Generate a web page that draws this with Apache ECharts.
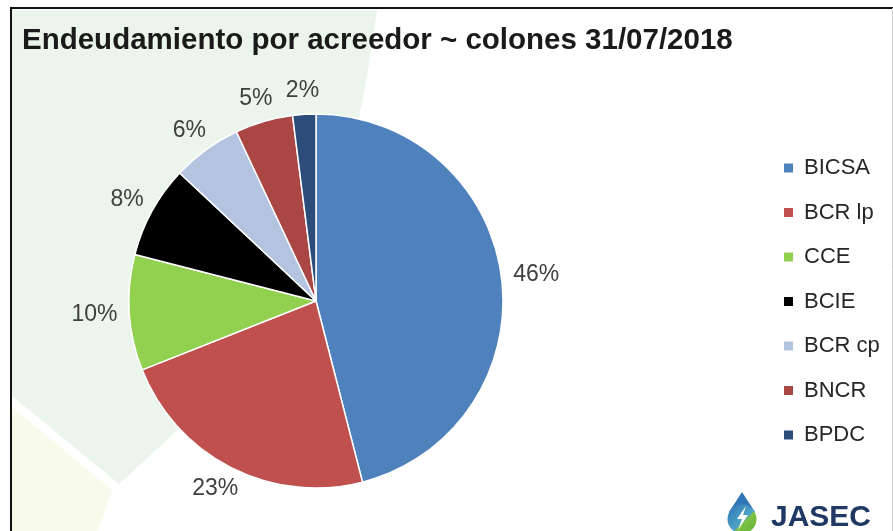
<!DOCTYPE html>
<html>
<head>
<meta charset="utf-8">
<script src="https://cdn.jsdelivr.net/npm/echarts@6/dist/echarts.min.js"></script>
<style>
html, body { margin: 0; padding: 0; background: #fff; }
#chart { width: 893px; height: 531px; }
</style>
</head>
<body>
<div id="chart"></div>
<script>
// datos
var titulo = 'Endeudamiento por acreedor ~ colones 31/07/2018';
var acreedores = ['BICSA', 'BCR lp', 'CCE', 'BCIE', 'BCR cp', 'BNCR', 'BPDC'];
var porcentajes = [46, 23, 10, 8, 6, 5, 2];
var colores = ['#4F81BD', '#C0504D', '#92D050', '#000000', '#B4C4E0', '#AA4643', '#2C4D7A'];

var FONT = "'Liberation Sans', Arial, sans-serif";
var CX = 316, CY = 301, R = 187, GAP = 12;
var total = porcentajes.reduce(function (a, b) { return a + b }, 0);

var chart = echarts.init(document.getElementById('chart'), null, { renderer: 'canvas' });

var pieData = acreedores.map(function (n, i) {
  return { name: n, value: porcentajes[i] };
});

var option = {
  animation: false,
  color: colores,
  title: {
    text: titulo,
    left: 22,
    top: 26,
    padding: 0,
    textStyle: { fontFamily: FONT, fontSize: 29.5, fontWeight: 'bold', color: '#1a1a1a' }
  },
  legend: {
    orient: 'vertical',
    left: 782,
    top: 157,
    padding: 0,
    icon: 'rect',
    itemWidth: 11,
    itemHeight: 11,
    itemGap: 22.5,
    selectedMode: false,
    textStyle: { fontFamily: FONT, fontSize: 22, color: '#262626', padding: [0, 0, 0, 5] },
    data: acreedores
  },
  graphic: [
    // fondo decorativo
    { type: 'polygon', z: 0, silent: true,
      shape: { points: [[12, 10], [377, 10], [368, 70], [355, 140], [300, 300], [180, 428], [119, 484], [12, 396]] },
      style: { fill: '#EBF5EC' } },
    { type: 'polygon', z: 0, silent: true,
      shape: { points: [[12, 407], [112, 490], [98, 531], [12, 531]] },
      style: { fill: '#F8FBEB' } },
    // marco
    { type: 'line', z: 10, silent: true, shape: { x1: 10, y1: 8, x2: 893, y2: 8 }, style: { stroke: '#111', lineWidth: 2 } },
    { type: 'line', z: 10, silent: true, shape: { x1: 11, y1: 8, x2: 11, y2: 531 }, style: { stroke: '#111', lineWidth: 2 } },
    { type: 'line', z: 10, silent: true, shape: { x1: 892.5, y1: 8, x2: 892.5, y2: 531 }, style: { stroke: '#d0d0d0', lineWidth: 1 } },
    // logo
    { type: 'polygon', z: 10, silent: true,
      shape: { points: [[742, 492], [729, 512], [755, 512]] },
      style: { fill: '#2E75B6' } },
    { type: 'circle', z: 10, silent: true,
      shape: { cx: 742, cy: 519, r: 14.5 },
      style: { fill: { type: 'linear', x: 0, y: 0, x2: 1, y2: 1,
        colorStops: [{ offset: 0, color: '#2E75B6' }, { offset: 0.55, color: '#4FA3C7' }, { offset: 0.6, color: '#7DC242' }, { offset: 1, color: '#5FAE3A' }] } } },
    { type: 'polygon', z: 11, silent: true,
      shape: { points: [[746, 506], [737, 519], [742, 519], [738, 530], [748, 515], [743, 515]] },
      style: { fill: '#fff' } },
    { type: 'text', z: 10, silent: true, left: 771, top: 503,
      style: { text: 'JASEC', fontFamily: FONT, fontSize: 30, fontWeight: 'bold', fill: '#1F3864' } }
  ],
  series: [{
    type: 'pie',
    center: [CX, CY],
    radius: R,
    startAngle: 90,
    clockwise: true,
    avoidLabelOverlap: false,
    emphasis: { disabled: true },
    itemStyle: { borderColor: '#fff', borderWidth: 1.5 },
    label: {
      show: true,
      position: 'outside',
      formatter: function (p) { return p.value + '%' },
      fontFamily: FONT,
      fontSize: 23,
      color: '#404040'
    },
    labelLine: { show: false },
    labelLayout: function (p) {
      var antes = 0;
      for (var i = 0; i < p.dataIndex; i++) antes += porcentajes[i];
      var mid = (antes + porcentajes[p.dataIndex] / 2) / total * 2 * Math.PI;
      var ux = Math.sin(mid), uy = -Math.cos(mid);
      var hw = p.labelRect.width / 2, hh = p.labelRect.height / 2;
      var d = R + GAP;
      return {
        x: CX + ux * d + ux * hw,
        y: CY + uy * d + uy * hh,
        align: 'center',
        verticalAlign: 'middle'
      };
    },
    data: pieData
  }]
};

chart.setOption(option);
</script>
</body>
</html>
